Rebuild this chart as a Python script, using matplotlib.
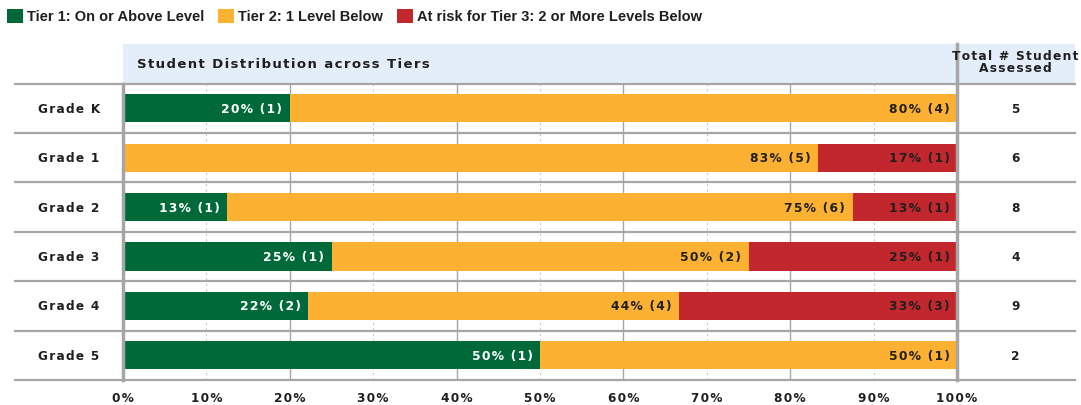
import matplotlib.pyplot as plt
from matplotlib.patches import Rectangle, Patch

# data
grades = ['Grade K', 'Grade 1', 'Grade 2', 'Grade 3', 'Grade 4', 'Grade 5']
tier1_n = [1, 0, 1, 1, 2, 1]
tier2_n = [4, 5, 6, 2, 4, 1]
tier3_n = [0, 1, 1, 1, 3, 0]
totals = [5, 6, 8, 4, 9, 2]
tier1_pct = [20, 0, 13, 25, 22, 50]
tier2_pct = [80, 83, 75, 50, 44, 50]
tier3_pct = [0, 17, 13, 25, 33, 0]
tick_vals = list(range(0, 101, 10))
series_names = ['Tier 1: On or Above Level', 'Tier 2: 1 Level Below',
                'At risk for Tier 3: 2 or More Levels Below']

GREEN = '#00693A'
ORANGE = '#FDB133'
RED = '#C1272D'
HEADER = '#E4EEFB'
LINE = '#A6A6A6'
TXT = '#1f1f1f'


def spaced(s):
    # fake letter spacing with hair spaces
    return '\u200a'.join(s)


W, H = 1081, 406
fig = plt.figure(figsize=(W / 100, H / 100), dpi=100)
ax = fig.add_axes([123 / W, (H - 381) / H, (957 - 123) / W, (381 - 45) / H])

n = len(grades)
row_px = (381 - 84.5) / n
hdr = (84.5 - 45) / row_px
ax.set_xlim(0, 100)
ax.set_ylim(0, n + hdr)
ypos = [n - 0.5 - i for i in range(n)]

# header band
ax.add_patch(Rectangle((0, n), 114.2, hdr, facecolor=HEADER, edgecolor='none',
                       clip_on=False, zorder=0))
ax.text(1.7, n + 0.4, spaced('Student Distribution across Tiers'), fontsize=9.5,
        fontweight='bold', va='center', ha='left', color=TXT)
ax.text(107.0, n + 0.45, spaced('Total # Student') + '\n' + spaced('Assessed'), fontsize=8.8,
        fontweight='bold', va='center', ha='center', color=TXT, linespacing=0.95, zorder=6)

# grid
for v in tick_vals[1:-1]:
    if v % 20 == 0:
        ax.plot([v, v], [0, n], color=LINE, lw=1.0, zorder=1)
    else:
        ax.plot([v, v], [0, n], color='#C8C8C8', lw=0.8, ls=(0, (2, 3)), zorder=1)

# row separators
for k in range(n + 1):
    ax.plot([-12.9, 114.2], [k, k], color=LINE, lw=1.6, clip_on=False, zorder=2)

# bars
for i, y in enumerate(ypos):
    t = totals[i]
    p1 = tier1_n[i] / t * 100
    p2 = tier2_n[i] / t * 100
    p3 = tier3_n[i] / t * 100
    h = 0.57
    ax.barh(y, p1, height=h, color=GREEN, zorder=3)
    ax.barh(y, p2, left=p1, height=h, color=ORANGE, zorder=3)
    ax.barh(y, p3, left=p1 + p2, height=h, color=RED, zorder=3)
    if tier1_n[i]:
        ax.text(p1 - 0.9, y, spaced(f'{tier1_pct[i]}% ({tier1_n[i]})'), color='white',
                fontsize=8.8, fontweight='bold', ha='right', va='center', zorder=4)
    if tier2_n[i]:
        ax.text(p1 + p2 - 0.9, y, spaced(f'{tier2_pct[i]}% ({tier2_n[i]})'), color=TXT,
                fontsize=8.8, fontweight='bold', ha='right', va='center', zorder=4)
    if tier3_n[i]:
        ax.text(100 - 0.9, y, spaced(f'{tier3_pct[i]}% ({tier3_n[i]})'), color=TXT,
                fontsize=8.8, fontweight='bold', ha='right', va='center', zorder=4)
    ax.text(-10.2, y, spaced(grades[i]), fontsize=8.7, fontweight='bold', ha='left',
            va='center', color=TXT)
    ax.text(107.0, y, str(t), fontsize=8.7, fontweight='bold', ha='center', va='center',
            color=TXT)

# vertical frame lines
ax.plot([0, 0], [0, n], color=LINE, lw=2.5, zorder=5, clip_on=False)
ax.plot([100, 100], [0, n + hdr], color=LINE, lw=2.5, zorder=5, clip_on=False)

ax.set_xticks(tick_vals)
ax.set_xticklabels([spaced(f'{v}%') for v in tick_vals], fontsize=8.7, fontweight='bold')
ax.tick_params(axis='x', length=0, pad=8, labelcolor=TXT)
ax.set_yticks([])
for s in ax.spines.values():
    s.set_visible(False)

handles = [Patch(facecolor=c, edgecolor='none') for c in (GREEN, ORANGE, RED)]
fig.legend(handles, series_names, loc='center left', bbox_to_anchor=(7 / W, 1 - 17 / H),
           frameon=False, ncol=3, borderpad=0, borderaxespad=0,
           handlelength=1.1, handleheight=1.1, handletextpad=0.28, columnspacing=0.95,
           labelcolor=TXT,
           prop={'family': 'Liberation Sans', 'weight': 'bold', 'size': 10.5})

fig.savefig('out.png', dpi=100)
